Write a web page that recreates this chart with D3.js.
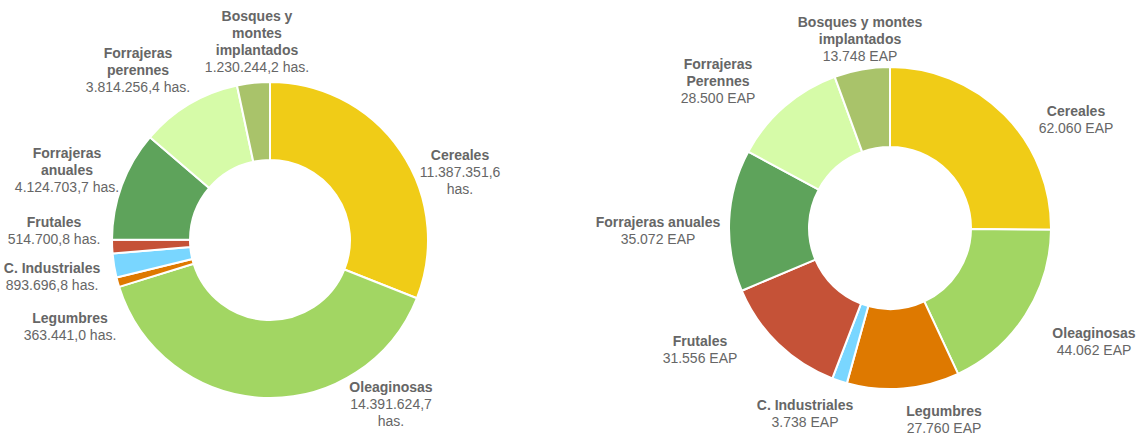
<!DOCTYPE html>
<html>
<head>
<meta charset="utf-8">
<script src="https://cdn.jsdelivr.net/npm/d3@7"></script>
<style>
    body { margin: 0; background: #fff; }
    text { font-family: "Liberation Sans", Arial, sans-serif; font-size: 14px; fill: #666; }
    .name { font-weight: bold; }
</style>
</head>
<body>
<div class="chart"></div>
<script>
// "|" marks where a label breaks onto a new line
var leftNames = ["Cereales", "Oleaginosas", "Legumbres", "C. Industriales", "Frutales",
    "Forrajeras|anuales", "Forrajeras|perennes", "Bosques y|montes|implantados"];
var leftValues = [11387351.6, 14391624.7, 363441.0, 893696.8, 514700.8, 4124703.7, 3814256.4, 1230244.2];
var leftUnit = "has.";

var rightNames = ["Cereales", "Oleaginosas", "Legumbres", "C. Industriales", "Frutales",
    "Forrajeras anuales", "Forrajeras|Perennes", "Bosques y montes|implantados"];
var rightValues = [62060, 44062, 27760, 3738, 31556, 35072, 28500, 13748];
var rightUnit = "EAP";

var colors = ["#f0cc17", "#a2d663", "#de7900", "#79d6ff", "#c55237", "#5ea35b", "#d6fba8", "#a9c36a"];

var svgWidth = 1142;
var svgHeight = 434;

var esLocale = d3.formatLocale({decimal: ",", thousands: ".", grouping: [3], currency: ["", ""]});

// label anchor points (centre of first line), and where the value wraps its unit
var leftLabelPos = [[460, 155], [391, 387], [70, 318], [52, 268], [54, 222], [67, 153], [138, 53], [257, 16]];
var leftWrapUnit = [true, true, false, false, false, false, false, false];
var rightLabelPos = [[1076, 111], [1094, 333], [944, 411], [805, 405], [700, 341], [658, 222], [718, 64], [860, 22]];

var $svg = d3.select(".chart")
    .append("svg")
    .attr("width", svgWidth)
    .attr("height", svgHeight);

drawDonut({
    cx: 270, cy: 240, outer: 158, inner: 80,
    names: leftNames, values: leftValues,
    fmt: esLocale.format(",.1f"), unit: leftUnit,
    labelPos: leftLabelPos, wrapUnit: leftWrapUnit
});

drawDonut({
    cx: 890, cy: 228, outer: 161, inner: 81,
    names: rightNames, values: rightValues,
    fmt: esLocale.format(",d"), unit: rightUnit,
    labelPos: rightLabelPos, wrapUnit: rightValues.map(()=>false)
});

function drawDonut(opt){
    var pie = d3.pie().sort(null).value(d=>d);
    var arc = d3.arc().innerRadius(opt.inner).outerRadius(opt.outer);

    var $g = $svg.append("g")
        .attr("transform", `translate(${opt.cx},${opt.cy})`);

    $g.selectAll("path")
        .data(pie(opt.values))
        .enter()
        .append("path")
        .attr("d", arc)
        .attr("fill", (d,i)=>colors[i])
        .attr("stroke", "#fff")
        .attr("stroke-width", 2)
        .attr("stroke-linejoin", "round");

    var lineH = 17;
    opt.names.forEach((name, i)=>{
        var lines = name.split("|").map(t=>({t: t, bold: true}));
        var val = opt.fmt(opt.values[i]);
        if (opt.wrapUnit[i]) {
            lines.push({t: val, bold: false});
            lines.push({t: opt.unit, bold: false});
        } else {
            lines.push({t: val + " " + opt.unit, bold: false});
        }
        var pos = opt.labelPos[i];
        var $t = $svg.append("text")
            .attr("text-anchor", "middle")
            .attr("x", pos[0])
            .attr("y", pos[1] + 5);
        lines.forEach((l, j)=>{
            $t.append("tspan")
                .attr("x", pos[0])
                .attr("dy", j == 0 ? 0 : lineH)
                .attr("class", l.bold ? "name" : "value")
                .text(l.t);
        });
    });
}
</script>
</body>
</html>
